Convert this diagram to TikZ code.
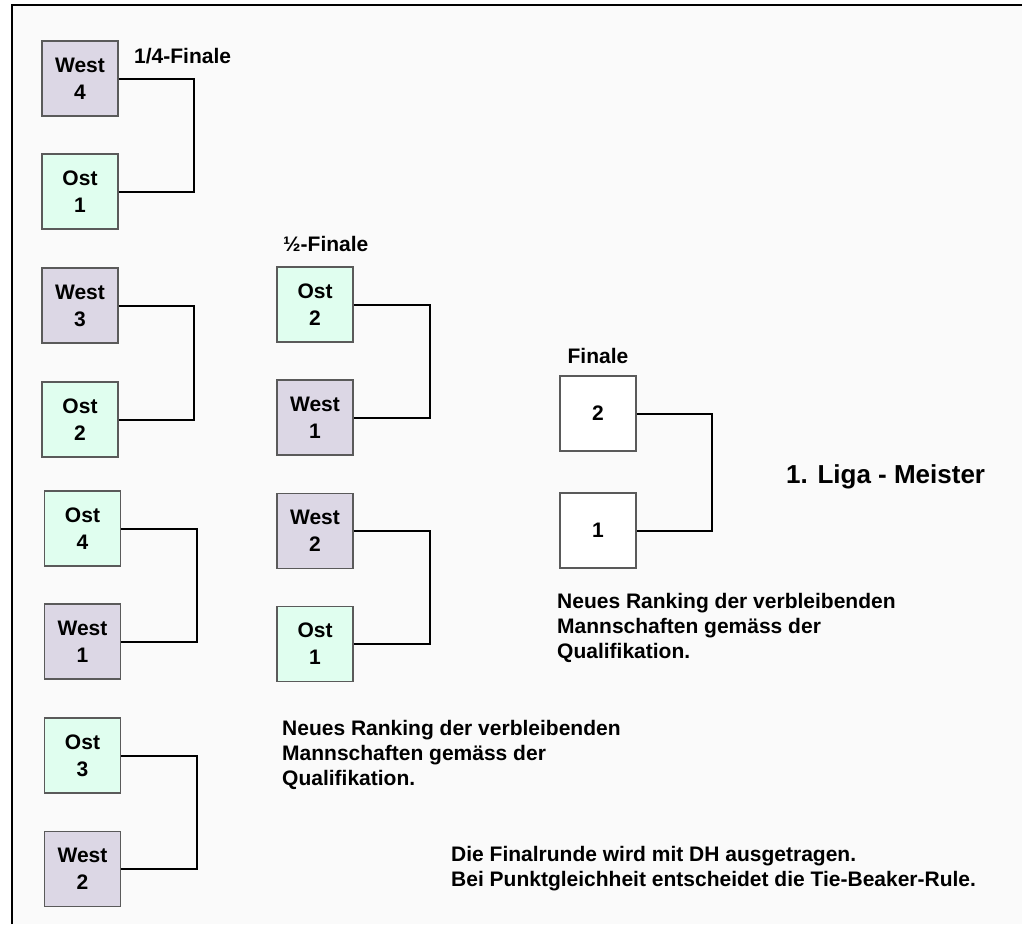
\documentclass[tikz,border=0pt]{standalone}
\usepackage{fontspec}
\setmainfont{Liberation Sans}
\definecolor{westfill}{HTML}{DCD7E5}
\definecolor{ostfill}{HTML}{E0FEEF}
\definecolor{boxline}{HTML}{5A5A5A}
\definecolor{bgfill}{HTML}{FAFAFA}
\definecolor{txt}{HTML}{000000}
\begin{document}
\begin{tikzpicture}[x=1pt,y=-1pt,
  team/.style={draw=boxline, line width=1.2pt, minimum width=76pt, minimum height=75pt,
    inner sep=0pt, align=center, font=\fontsize{21}{27}\selectfont\bfseries, text=txt},
  west/.style={team, fill=westfill},
  ost/.style={team, fill=ostfill},
  fin/.style={team, fill=white},
  conn/.style={line width=2pt, black},
  lbl/.style={font=\fontsize{21}{25}\selectfont\bfseries, text=txt, inner sep=0pt, align=left},
  biglbl/.style={font=\fontsize{26}{30}\selectfont\bfseries, text=txt, inner sep=0pt},
]
\useasboundingbox (0,0) rectangle (1022,924);
\fill[bgfill] (12,5) rectangle (1022,924);
\draw[line width=2.2pt, black] (12,924) -- (12,5) -- (1022,5);

% quarter finals
\node[west] (qw4) at (80,78.5) {West\\4};
\node[ost]  (qo1) at (80,191.5) {Ost\\1};
\node[west] (qw3) at (80,305.5) {West\\3};
\node[ost]  (qo2) at (80,419.5) {Ost\\2};
\node[ost]  (qo4) at (82.5,528.5) {Ost\\4};
\node[west] (qw1) at (82.5,641.5) {West\\1};
\node[ost]  (qo3) at (82.5,755.5) {Ost\\3};
\node[west] (qw2) at (82.5,869) {West\\2};

% semi finals
\node[ost]  (so2) at (315,304.5) {Ost\\2};
\node[west] (sw1) at (315,417.5) {West\\1};
\node[west] (sw2) at (315,531) {West\\2};
\node[ost]  (so1) at (315,644) {Ost\\1};

% final
\node[fin] (f2) at (598,413.5) {2};
\node[fin] (f1) at (598,530.5) {1};

% connectors
\draw[conn] (qw4.east) -- ++(75,0) |- (qo1.east);
\draw[conn] (qw3.east) -- ++(75,0) |- (qo2.east);
\draw[conn] (qo4.east) -- ++(76,0) |- (qw1.east);
\draw[conn] (qo3.east) -- ++(76,0) |- (qw2.east);
\draw[conn] (so2.east) -- ++(76,0) |- (sw1.east);
\draw[conn] (sw2.east) -- ++(76,0) |- (so1.east);
\draw[conn] (f2.east) -- ++(75,0) |- (f1.east);

% labels
\node[lbl, anchor=base west] (lq) at (134,63) {1/4-Finale};
\node[lbl, anchor=base west] (ls) at (283,251.5) {½-Finale};
\node[lbl, anchor=base] (lf) at (598,363) {Finale};
\node[biglbl, anchor=base west] (lm) at (786,483) {1. Liga - Meister};

\node[lbl, anchor=north west] (n1) at (557,593)
  {Neues Ranking der verbleibenden\\Mannschaften gemäss der\\Qualifikation.};
\node[lbl, anchor=north west] (n2) at (282,720)
  {Neues Ranking der verbleibenden\\Mannschaften gemäss der\\Qualifikation.};
\node[lbl, anchor=north west] (n3) at (451,846)
  {Die Finalrunde wird mit DH ausgetragen.\\Bei Punktgleichheit entscheidet die Tie-Beaker-Rule.};
\end{tikzpicture}
\end{document}
